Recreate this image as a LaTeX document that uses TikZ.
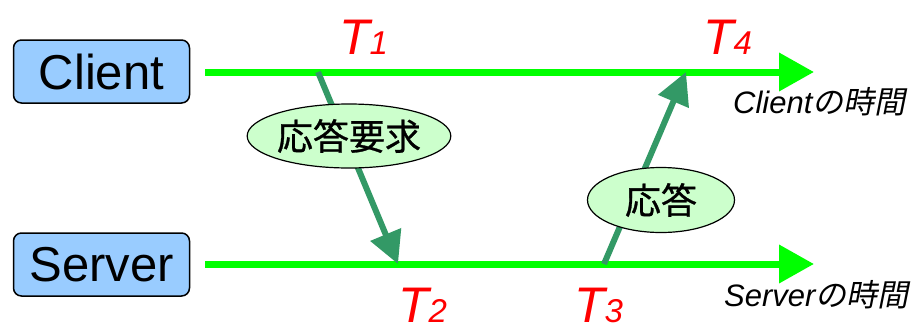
\documentclass[tikz,border=0pt]{standalone}
\usepackage{fontspec}
\setmainfont{Liberation Sans}
\newfontfamily\jp[FakeBold=0.8]{Noto Sans CJK JP}
\newfontfamily\jpit[FakeSlant=0.2]{Noto Sans CJK JP}
\usetikzlibrary{arrows.meta,shapes.geometric}
\definecolor{boxblue}{RGB}{153,204,255}
\definecolor{tline}{RGB}{0,255,0}
\definecolor{msg}{RGB}{51,153,102}
\definecolor{bubble}{RGB}{204,255,204}
\tikzset{
  hostbox/.style={draw=black,line width=1.5pt,fill=boxblue,rounded corners=8pt,
    minimum width=176pt,minimum height=63pt,inner sep=0pt,
    font=\fontsize{49}{49}\selectfont},
  timeline/.style={draw=tline,line width=7pt,-{Triangle[length=35pt,width=37pt]}},
  msgarrow/.style={draw=msg,line width=6pt,-{Triangle[length=32pt,width=32pt]}},
  bubblenode/.style={ellipse,draw=black,line width=1.2pt,fill=bubble,inner sep=0pt,
    font=\jp\fontsize{36}{36}\selectfont},
  tlabel/.style={anchor=base west,text=red,inner sep=0pt,font=\itshape},
  timecap/.style={anchor=base west,inner sep=0pt,font=\fontsize{31}{31}\selectfont}
}
\newcommand{\tlab}[1]{{\fontsize{50}{50}\selectfont T}{\fontsize{33}{33}\selectfont #1}}
\begin{document}
\begin{tikzpicture}[x=1pt,y=-1pt]
\useasboundingbox (0,0) rectangle (914,327);
% hosts
\node[hostbox] (client) at (101.5,71.5) {Client};
\node[hostbox] (server) at (101.5,264.5) {Server};
% timeline endpoints
\coordinate (cs) at (205,72);
\coordinate (ce) at (814,72);
\coordinate (ss) at (205,264);
\coordinate (se) at (814,264);
\draw[timeline] (cs) -- (ce);
\draw[timeline] (ss) -- (se);
% message endpoints
\coordinate (t1p) at (318,72);
\coordinate (t2p) at (398,264);
\coordinate (t3p) at (604,264);
\coordinate (t4p) at (686,72);
\draw[msgarrow] (t1p) -- (t2p);
\draw[msgarrow] (t3p) -- (t4p);
% bubbles
\node[bubblenode,minimum width=193pt,minimum height=64pt] (req) at (349,136) {応答要求};
\node[bubblenode,minimum width=147pt,minimum height=65pt] (resp) at (661,200) {応答};
% time labels
\node[tlabel] (T1) at (339,54) {\tlab{1}};
\node[tlabel] (T4) at (703,54) {\tlab{4}};
\node[tlabel] (T2) at (398,322) {\tlab{2}};
\node[tlabel] (T3) at (574,322) {\tlab{3}};
% captions
\node[timecap] (ccap) at (733,113) {\itshape Client\jpit の時間};
\node[timecap] (scap) at (724,306) {\itshape Server\jpit の時間};
\end{tikzpicture}
\end{document}
